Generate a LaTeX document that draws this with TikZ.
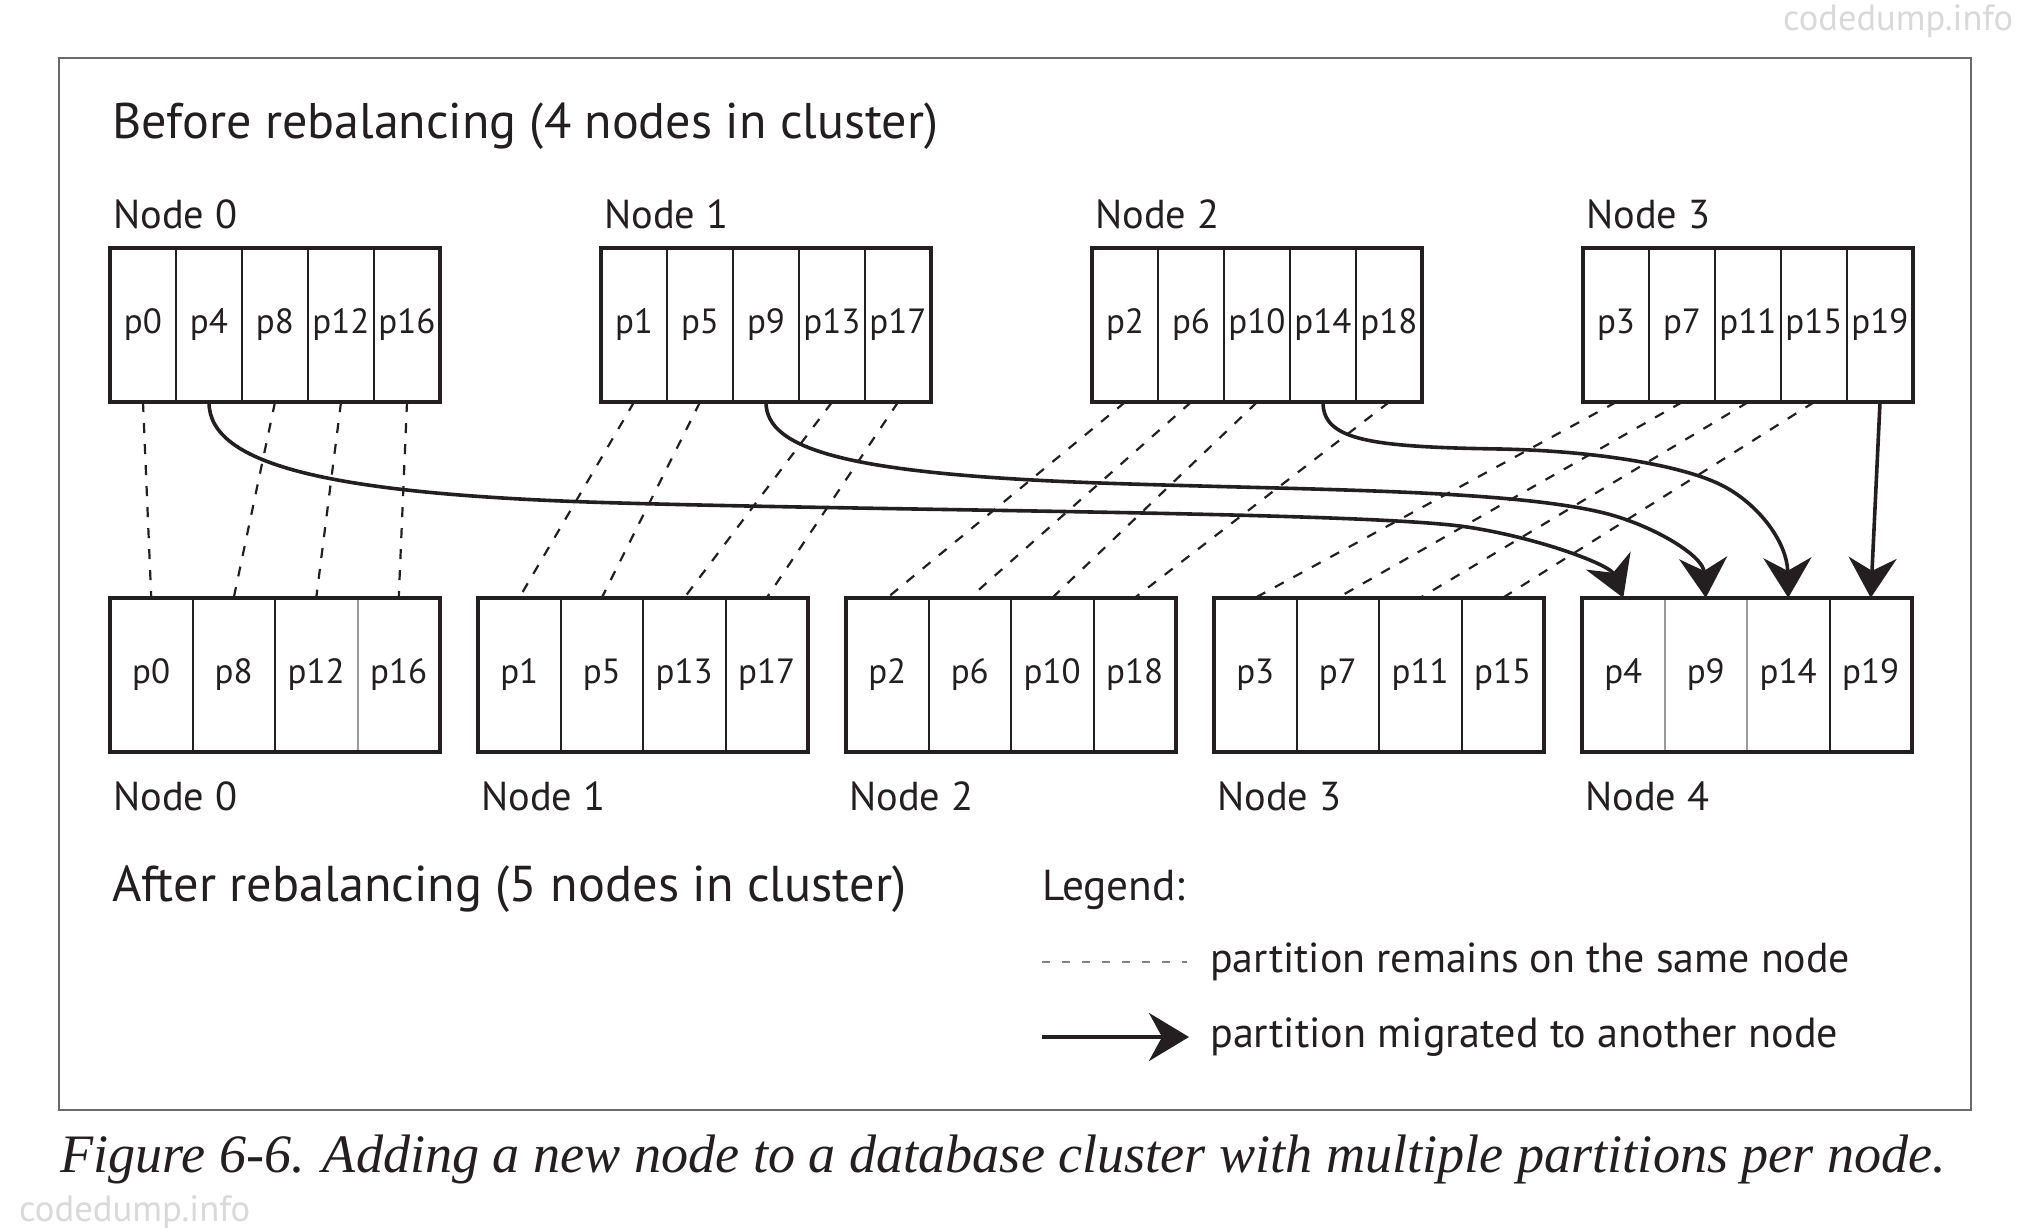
\documentclass[tikz,border=0pt]{standalone}
\usepackage{fontspec}
\usepackage{graphicx}
\setmainfont{PT Sans}
\newfontfamily\capfont{Liberation Serif}
\usetikzlibrary{arrows.meta}
\definecolor{ink}{HTML}{231F20}
\definecolor{framegray}{HTML}{6A6A6A}
\definecolor{divgray}{HTML}{9A9A9A}
\begin{document}
\begin{tikzpicture}[x=1pt,y=-1pt,
  topcell/.style={inner sep=0pt, minimum width=66pt, minimum height=154pt,
    font=\fontsize{35}{40}\selectfont, text=ink},
  botcell/.style={inner sep=0pt, minimum width=82.5pt, minimum height=154pt,
    font=\fontsize{35}{40}\selectfont, text=ink},
  boxline/.style={draw=ink, line width=4.4pt},
  divider/.style={draw=ink, line width=2pt},
  lightdivider/.style={draw=divgray, line width=2pt},
  lbl/.style={inner sep=0pt, anchor=base west, text=ink, font=\fontsize{40}{48}\selectfont},
  samenode/.style={draw=ink, line width=2.2pt, dash pattern=on 10pt off 11pt},
  legdash/.style={draw=gray, line width=1.8pt, dash pattern=on 8pt off 12pt},
  migrate/.style={draw=ink, line width=3.6pt, -{Stealth[length=40pt, width=48pt, inset=13pt]}},
  wm/.style={inner sep=0pt, anchor=base west, text=gray!30, font=\fontsize{30}{36}\selectfont}
]
\useasboundingbox (0,0) rectangle (2036,1228);
\fill[white] (0,0) rectangle (2036,1228);

% outer frame
\draw[draw=framegray, line width=2pt] (58.5,58.5) rectangle (1971,1110);

% watermarks
\node[wm] (wm1) at (1783,31) {\resizebox{230pt}{!}{codedump.info}};
\node[wm] (wm2) at (19,1221) {\resizebox{231pt}{!}{codedump.info}};

% titles
\node[lbl] (title1) at (112,139) {\resizebox{826pt}{!}{\fontsize{44}{52}\selectfont Before rebalancing (4 nodes in cluster)}};
\node[lbl] (title2) at (112,901) {\resizebox{794pt}{!}{\fontsize{44}{52}\selectfont After rebalancing (5 nodes in cluster)}};

% top row: 4 nodes with 5 partitions each
\foreach \k in {0,...,3}{
  \foreach \ci in {0,...,4}{
    \pgfmathtruncatemacro{\pn}{\k+4*\ci}
    \node[topcell] (t\k-\ci) at ({110+491*\k+33+66*\ci},325) {p\pn};
  }
  \foreach \ci in {0,...,3}{
    \draw[divider] (t\k-\ci.north east) -- (t\k-\ci.south east);
  }
  \draw[boxline] (t\k-0.north west) rectangle (t\k-4.south east);
  \pgfmathtruncatemacro{\lx}{113+491*\k}
  \node[lbl] (tl\k) at (\lx,228) {\resizebox{124pt}{!}{Node \k}};
}

% bottom row: 5 nodes with 4 partitions each
\foreach \cj/\plist in {0/{0,8,12,16},1/{1,5,13,17},2/{2,6,10,18},3/{3,7,11,15},4/{4,9,14,19}}{
  \foreach \p [count=\ci from 0] in \plist {
    \node[botcell] (b\cj-\ci) at ({110+368*\cj+41.25+82.5*\ci},675) {p\p};
  }
  \foreach \ci in {0,1,2}{
    \draw[divider] (b\cj-\ci.north east) -- (b\cj-\ci.south east);
  }
  \pgfmathtruncatemacro{\lx}{113+368*\cj}
  \node[lbl] (bl\cj) at (\lx,810) {\resizebox{124pt}{!}{Node \cj}};
}
\draw[lightdivider] (b4-0.north east) -- (b4-0.south east);
\draw[lightdivider] (b4-1.north east) -- (b4-1.south east);
\draw[lightdivider] (b0-2.north east) -- (b0-2.south east);
\foreach \cj in {0,...,4}{
  \draw[boxline] (b\cj-0.north west) rectangle (b\cj-3.south east);
}

% partitions that stay on the same node
\foreach \a/\b in {t0-0/b0-0,t0-2/b0-1,t0-3/b0-2,t0-4/b0-3,
                   t1-0/b1-0,t1-1/b1-1,t1-3/b1-2,t1-4/b1-3,
                   t2-0/b2-0,t2-1/b2-1,t2-2/b2-2,t2-4/b2-3,
                   t3-0/b3-0,t3-1/b3-1,t3-2/b3-2,t3-3/b3-3}{
  \draw[samenode] (\a.south) -- (\b.north);
}

% migrated partitions
\draw[migrate] (t0-1.south) .. controls +(0,63) and (330,495) .. (620,503)
  .. controls (900,511) and (1367,512) .. (1467,527)
  .. controls (1540,538) and (1610,565) .. (b4-0.north);
\draw[migrate] (t1-2.south) .. controls +(0,48) and (850,474) .. (1100,483)
  .. controls (1300,490) and (1500,489) .. (1600,512)
  .. controls (1650,523.5) and (1703,555) .. (b4-1.north);
\draw[migrate] (t2-3.south) .. controls +(0,38) and (1370,447) .. (1500,449)
  .. controls (1600,451) and (1680,466) .. (1717,483)
  .. controls (1755,500) and (1787,540) .. (b4-2.north);
\draw[migrate] (t3-4.south) -- (b4-3.north);

% legend
\node[lbl] (legend) at (1042,900) {\resizebox{143pt}{!}{Legend:}};
\coordinate (l1a) at (1042,962);
\coordinate (l1b) at (1187,962);
\coordinate (l2a) at (1042,1037);
\coordinate (l2b) at (1189,1037);
\draw[legdash] (l1a) -- (l1b);
\draw[migrate] (l2a) -- (l2b);
\node[lbl] (leg1) at (1210,972) {\resizebox{640pt}{!}{partition remains on the same node}};
\node[lbl] (leg2) at (1210,1047) {\resizebox{628pt}{!}{partition migrated to another node}};

% caption
\node[lbl] (caption) at (60,1172) {\resizebox{1886pt}{!}{\capfont\itshape\fontsize{44}{52}\selectfont Figure 6-6. Adding a new node to a database cluster with multiple partitions per node.}};
\end{tikzpicture}
\end{document}
